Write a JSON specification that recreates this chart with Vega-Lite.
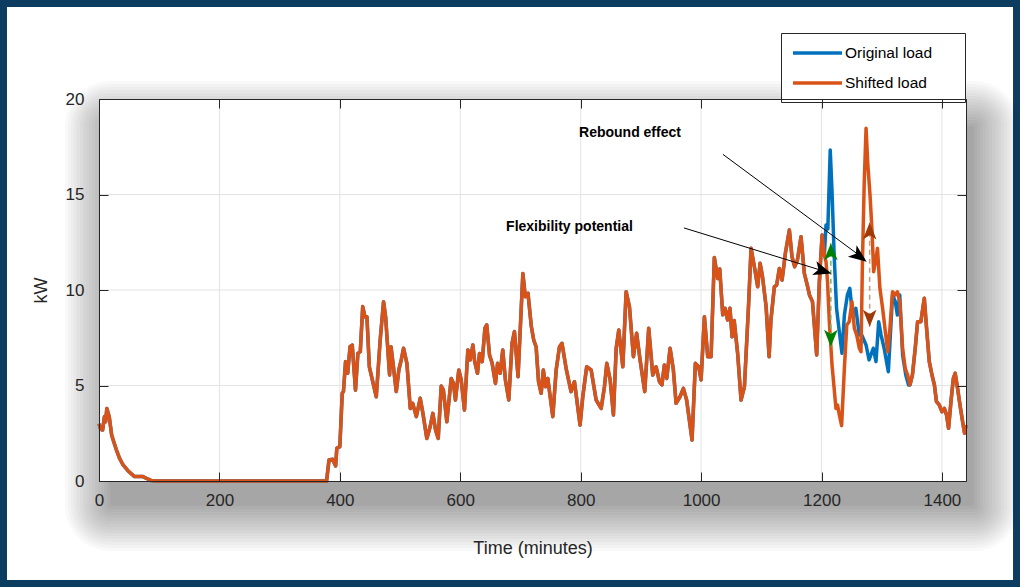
{
  "$schema": "https://vega.github.io/schema/vega-lite/v6.json",
  "width": 867,
  "height": 382,
  "autosize": {"type": "none"},
  "padding": {"left": 99, "top": 99, "right": 54, "bottom": 106},
  "background": "#0d3c61",
  "datasets": {
    "original": [
      {"t":0,"kW":3.0},{"t":3,"kW":2.7},{"t":6,"kW":2.67},{"t":9,"kW":3.37},{"t":11,"kW":3.1},{"t":13,"kW":3.8},{"t":17,"kW":3.37},{"t":21,"kW":2.41},{"t":25,"kW":2.0},{"t":29,"kW":1.62},{"t":34,"kW":1.2},{"t":40,"kW":0.84},{"t":48,"kW":0.54},{"t":59,"kW":0.23},{"t":73,"kW":0.23},{"t":80,"kW":0.12},{"t":87,"kW":0.02},{"t":95,"kW":0},{"t":378,"kW":0},{"t":382,"kW":1.1},{"t":388,"kW":1.14},{"t":393,"kW":0.79},{"t":395,"kW":1.71},{"t":400,"kW":1.8},{"t":404,"kW":4.59},{"t":406,"kW":4.68},{"t":409.5,"kW":6.25},{"t":413,"kW":5.64},{"t":417,"kW":7.03},{"t":420.6,"kW":7.12},{"t":426,"kW":4.76},{"t":430,"kW":6.68},{"t":434,"kW":6.77},{"t":438,"kW":9.13},{"t":441.6,"kW":8.6},{"t":445,"kW":8.6},{"t":449,"kW":5.98},{"t":454,"kW":5.29},{"t":460.5,"kW":4.41},{"t":467,"kW":7.38},{"t":472.6,"kW":9.39},{"t":476,"kW":8.6},{"t":482.6,"kW":5.55},{"t":485,"kW":7.03},{"t":489,"kW":5.98},{"t":493.7,"kW":4.68},{"t":498,"kW":5.81},{"t":502,"kW":6.34},{"t":505.8,"kW":6.95},{"t":511.4,"kW":6.16},{"t":517,"kW":3.8},{"t":521,"kW":4.07},{"t":527,"kW":3.37},{"t":533.5,"kW":4.33},{"t":538,"kW":3.54},{"t":544.5,"kW":2.23},{"t":550,"kW":2.84},{"t":554.5,"kW":3.54},{"t":559,"kW":2.67},{"t":563.4,"kW":2.23},{"t":568.4,"kW":4.97},{"t":572,"kW":4.76},{"t":577.7,"kW":3.1},{"t":585,"kW":5.37},{"t":588.8,"kW":5.11},{"t":592,"kW":4.24},{"t":597.6,"kW":5.81},{"t":601.6,"kW":5.29},{"t":607,"kW":3.72},{"t":612.6,"kW":6.86},{"t":616.5,"kW":6.34},{"t":621,"kW":7.12},{"t":624,"kW":6.25},{"t":628.6,"kW":5.64},{"t":632,"kW":6.68},{"t":636.5,"kW":6.25},{"t":641,"kW":8.0},{"t":644,"kW":8.17},{"t":648.6,"kW":6.6},{"t":653,"kW":6.16},{"t":658.5,"kW":5.11},{"t":662,"kW":6.16},{"t":666.4,"kW":5.64},{"t":670.6,"kW":6.86},{"t":675,"kW":5.29},{"t":680.6,"kW":4.24},{"t":686,"kW":7.21},{"t":690,"kW":7.82},{"t":696,"kW":5.46},{"t":704,"kW":10.87},{"t":708,"kW":9.65},{"t":712.5,"kW":9.83},{"t":718,"kW":8.1},{"t":722,"kW":7.38},{"t":726,"kW":7.03},{"t":730,"kW":5.2},{"t":734.4,"kW":4.59},{"t":738,"kW":5.81},{"t":741.6,"kW":4.94},{"t":745.4,"kW":5.37},{"t":753.7,"kW":3.37},{"t":759.3,"kW":5.81},{"t":764.8,"kW":7.03},{"t":769,"kW":7.21},{"t":775.8,"kW":5.9},{"t":784,"kW":4.68},{"t":789.7,"kW":5.2},{"t":799,"kW":2.93},{"t":803.5,"kW":4.41},{"t":810,"kW":5.98},{"t":817.4,"kW":5.81},{"t":825.7,"kW":4.24},{"t":834,"kW":3.8},{"t":839.5,"kW":4.94},{"t":843.4,"kW":6.16},{"t":849,"kW":5.29},{"t":854.4,"kW":3.46},{"t":859,"kW":6.95},{"t":863.3,"kW":7.91},{"t":870,"kW":5.98},{"t":875.5,"kW":9.91},{"t":881,"kW":9.13},{"t":887.6,"kW":6.51},{"t":893,"kW":7.73},{"t":898.7,"kW":6.34},{"t":906.4,"kW":4.68},{"t":913,"kW":8.0},{"t":919.7,"kW":5.55},{"t":925.3,"kW":5.98},{"t":930.8,"kW":5.2},{"t":935,"kW":5.03},{"t":939,"kW":6.07},{"t":943,"kW":5.37},{"t":948.5,"kW":6.95},{"t":954,"kW":5.81},{"t":958.5,"kW":4.07},{"t":965,"kW":4.41},{"t":970.6,"kW":4.85},{"t":976,"kW":4.24},{"t":985,"kW":2.15},{"t":990.5,"kW":6.16},{"t":996,"kW":5.98},{"t":1000,"kW":5.29},{"t":1005.5,"kW":8.6},{"t":1011,"kW":6.51},{"t":1016.6,"kW":6.51},{"t":1022,"kW":11.7},{"t":1027.6,"kW":10.6},{"t":1031,"kW":11.1},{"t":1036,"kW":8.7},{"t":1040,"kW":9.04},{"t":1044,"kW":8.43},{"t":1048,"kW":9.04},{"t":1051.5,"kW":7.55},{"t":1055,"kW":8.4},{"t":1060.7,"kW":6.69},{"t":1066.4,"kW":4.24},{"t":1072,"kW":4.94},{"t":1079,"kW":9.3},{"t":1083,"kW":12.18},{"t":1088.5,"kW":11.22},{"t":1094,"kW":10.17},{"t":1098,"kW":11.4},{"t":1102,"kW":10.7},{"t":1108,"kW":9.13},{"t":1113,"kW":6.51},{"t":1116,"kW":8.43},{"t":1121.7,"kW":10.17},{"t":1125.5,"kW":10.26},{"t":1130,"kW":11.13},{"t":1134.5,"kW":10.52},{"t":1140,"kW":11.92},{"t":1146.6,"kW":13.14},{"t":1151,"kW":11.74},{"t":1155.5,"kW":11.22},{"t":1160,"kW":11.57},{"t":1166,"kW":12.79},{"t":1171.5,"kW":10.87},{"t":1177,"kW":10.17},{"t":1180,"kW":9.74},{"t":1185,"kW":9.39},{"t":1192,"kW":6.6},{"t":1196.4,"kW":10.43},{"t":1201,"kW":12.88},{"t":1204.7,"kW":11.83},
      {"t":1207.5,"kW":13.4},{"t":1210.5,"kW":13.2},{"t":1214.5,"kW":17.33},{"t":1217.5,"kW":15.15},{"t":1221,"kW":11.83},{"t":1225,"kW":9.04},{"t":1229.6,"kW":7.82},{"t":1234,"kW":6.69},{"t":1238,"kW":8.69},{"t":1243,"kW":9.74},{"t":1247,"kW":10.09},{"t":1251.5,"kW":8.69},{"t":1257,"kW":9.04},{"t":1262.8,"kW":7.64},{"t":1267,"kW":7.64},{"t":1274,"kW":7.12},{"t":1279,"kW":6.34},{"t":1286,"kW":6.95},{"t":1290.5,"kW":6.25},{"t":1295,"kW":8.34},{"t":1299,"kW":7.64},{"t":1304,"kW":6.95},{"t":1311,"kW":5.72},{"t":1315,"kW":8.0},{"t":1318,"kW":9.74},{"t":1322.6,"kW":9.39},{"t":1326,"kW":8.69},{"t":1330,"kW":9.74},{"t":1334.7,"kW":6.6},{"t":1340,"kW":5.55},{"t":1344.6,"kW":5.03},
      {"t":1347,"kW":5.03},{"t":1351,"kW":5.55},{"t":1355.7,"kW":6.95},{"t":1359.6,"kW":8.34},{"t":1365,"kW":8.34},{"t":1370.7,"kW":9.57},{"t":1374.5,"kW":8.0},{"t":1379,"kW":6.25},{"t":1383.5,"kW":5.55},{"t":1387.5,"kW":5.03},{"t":1391,"kW":4.15},{"t":1395.6,"kW":3.98},{"t":1400,"kW":3.63},{"t":1404,"kW":3.8},{"t":1407.7,"kW":3.46},{"t":1411,"kW":2.76},{"t":1415,"kW":4.15},{"t":1419,"kW":5.37},{"t":1422,"kW":5.64},{"t":1426,"kW":4.85},{"t":1430,"kW":3.98},{"t":1434.4,"kW":3.1},{"t":1437.6,"kW":2.5},{"t":1440,"kW":2.93}
    ],
    "shifted": [
      {"t":0,"kW":3.0},{"t":3,"kW":2.7},{"t":6,"kW":2.67},{"t":9,"kW":3.37},{"t":11,"kW":3.1},{"t":13,"kW":3.8},{"t":17,"kW":3.37},{"t":21,"kW":2.41},{"t":25,"kW":2.0},{"t":29,"kW":1.62},{"t":34,"kW":1.2},{"t":40,"kW":0.84},{"t":48,"kW":0.54},{"t":59,"kW":0.23},{"t":73,"kW":0.23},{"t":80,"kW":0.12},{"t":87,"kW":0.02},{"t":95,"kW":0},{"t":378,"kW":0},{"t":382,"kW":1.1},{"t":388,"kW":1.14},{"t":393,"kW":0.79},{"t":395,"kW":1.71},{"t":400,"kW":1.8},{"t":404,"kW":4.59},{"t":406,"kW":4.68},{"t":409.5,"kW":6.25},{"t":413,"kW":5.64},{"t":417,"kW":7.03},{"t":420.6,"kW":7.12},{"t":426,"kW":4.76},{"t":430,"kW":6.68},{"t":434,"kW":6.77},{"t":438,"kW":9.13},{"t":441.6,"kW":8.6},{"t":445,"kW":8.6},{"t":449,"kW":5.98},{"t":454,"kW":5.29},{"t":460.5,"kW":4.41},{"t":467,"kW":7.38},{"t":472.6,"kW":9.39},{"t":476,"kW":8.6},{"t":482.6,"kW":5.55},{"t":485,"kW":7.03},{"t":489,"kW":5.98},{"t":493.7,"kW":4.68},{"t":498,"kW":5.81},{"t":502,"kW":6.34},{"t":505.8,"kW":6.95},{"t":511.4,"kW":6.16},{"t":517,"kW":3.8},{"t":521,"kW":4.07},{"t":527,"kW":3.37},{"t":533.5,"kW":4.33},{"t":538,"kW":3.54},{"t":544.5,"kW":2.23},{"t":550,"kW":2.84},{"t":554.5,"kW":3.54},{"t":559,"kW":2.67},{"t":563.4,"kW":2.23},{"t":568.4,"kW":4.97},{"t":572,"kW":4.76},{"t":577.7,"kW":3.1},{"t":585,"kW":5.37},{"t":588.8,"kW":5.11},{"t":592,"kW":4.24},{"t":597.6,"kW":5.81},{"t":601.6,"kW":5.29},{"t":607,"kW":3.72},{"t":612.6,"kW":6.86},{"t":616.5,"kW":6.34},{"t":621,"kW":7.12},{"t":624,"kW":6.25},{"t":628.6,"kW":5.64},{"t":632,"kW":6.68},{"t":636.5,"kW":6.25},{"t":641,"kW":8.0},{"t":644,"kW":8.17},{"t":648.6,"kW":6.6},{"t":653,"kW":6.16},{"t":658.5,"kW":5.11},{"t":662,"kW":6.16},{"t":666.4,"kW":5.64},{"t":670.6,"kW":6.86},{"t":675,"kW":5.29},{"t":680.6,"kW":4.24},{"t":686,"kW":7.21},{"t":690,"kW":7.82},{"t":696,"kW":5.46},{"t":704,"kW":10.87},{"t":708,"kW":9.65},{"t":712.5,"kW":9.83},{"t":718,"kW":8.1},{"t":722,"kW":7.38},{"t":726,"kW":7.03},{"t":730,"kW":5.2},{"t":734.4,"kW":4.59},{"t":738,"kW":5.81},{"t":741.6,"kW":4.94},{"t":745.4,"kW":5.37},{"t":753.7,"kW":3.37},{"t":759.3,"kW":5.81},{"t":764.8,"kW":7.03},{"t":769,"kW":7.21},{"t":775.8,"kW":5.9},{"t":784,"kW":4.68},{"t":789.7,"kW":5.2},{"t":799,"kW":2.93},{"t":803.5,"kW":4.41},{"t":810,"kW":5.98},{"t":817.4,"kW":5.81},{"t":825.7,"kW":4.24},{"t":834,"kW":3.8},{"t":839.5,"kW":4.94},{"t":843.4,"kW":6.16},{"t":849,"kW":5.29},{"t":854.4,"kW":3.46},{"t":859,"kW":6.95},{"t":863.3,"kW":7.91},{"t":870,"kW":5.98},{"t":875.5,"kW":9.91},{"t":881,"kW":9.13},{"t":887.6,"kW":6.51},{"t":893,"kW":7.73},{"t":898.7,"kW":6.34},{"t":906.4,"kW":4.68},{"t":913,"kW":8.0},{"t":919.7,"kW":5.55},{"t":925.3,"kW":5.98},{"t":930.8,"kW":5.2},{"t":935,"kW":5.03},{"t":939,"kW":6.07},{"t":943,"kW":5.37},{"t":948.5,"kW":6.95},{"t":954,"kW":5.81},{"t":958.5,"kW":4.07},{"t":965,"kW":4.41},{"t":970.6,"kW":4.85},{"t":976,"kW":4.24},{"t":985,"kW":2.15},{"t":990.5,"kW":6.16},{"t":996,"kW":5.98},{"t":1000,"kW":5.29},{"t":1005.5,"kW":8.6},{"t":1011,"kW":6.51},{"t":1016.6,"kW":6.51},{"t":1022,"kW":11.7},{"t":1027.6,"kW":10.6},{"t":1031,"kW":11.1},{"t":1036,"kW":8.7},{"t":1040,"kW":9.04},{"t":1044,"kW":8.43},{"t":1048,"kW":9.04},{"t":1051.5,"kW":7.55},{"t":1055,"kW":8.4},{"t":1060.7,"kW":6.69},{"t":1066.4,"kW":4.24},{"t":1072,"kW":4.94},{"t":1079,"kW":9.3},{"t":1083,"kW":12.18},{"t":1088.5,"kW":11.22},{"t":1094,"kW":10.17},{"t":1098,"kW":11.4},{"t":1102,"kW":10.7},{"t":1108,"kW":9.13},{"t":1113,"kW":6.51},{"t":1116,"kW":8.43},{"t":1121.7,"kW":10.17},{"t":1125.5,"kW":10.26},{"t":1130,"kW":11.13},{"t":1134.5,"kW":10.52},{"t":1140,"kW":11.92},{"t":1146.6,"kW":13.14},{"t":1151,"kW":11.74},{"t":1155.5,"kW":11.22},{"t":1160,"kW":11.57},{"t":1166,"kW":12.79},{"t":1171.5,"kW":10.87},{"t":1177,"kW":10.17},{"t":1180,"kW":9.74},{"t":1185,"kW":9.39},{"t":1192,"kW":6.6},{"t":1196.4,"kW":10.43},{"t":1201,"kW":12.88},{"t":1204.7,"kW":11.83},
      {"t":1207.5,"kW":11.48},{"t":1210,"kW":10.43},{"t":1213,"kW":8.34},{"t":1217.5,"kW":6.07},{"t":1221,"kW":4.85},{"t":1224,"kW":3.8},{"t":1226.7,"kW":3.98},{"t":1229.6,"kW":3.46},{"t":1233.4,"kW":2.9},{"t":1238,"kW":5.9},{"t":1242,"kW":8.17},{"t":1246,"kW":8.34},{"t":1250.6,"kW":9.39},{"t":1254.5,"kW":8.0},{"t":1258.5,"kW":7.64},{"t":1262.8,"kW":6.95},{"t":1265.6,"kW":6.77},{"t":1268,"kW":11.48},{"t":1271,"kW":15.67},{"t":1274,"kW":18.47},{"t":1277,"kW":16.54},{"t":1280.6,"kW":14.97},{"t":1284,"kW":13.05},{"t":1286.6,"kW":10.96},{"t":1290.5,"kW":11.66},{"t":1293,"kW":12.18},{"t":1297,"kW":10.09},{"t":1301.5,"kW":9.04},{"t":1306,"kW":7.82},{"t":1310,"kW":6.77},{"t":1313.7,"kW":8.0},{"t":1318,"kW":9.91},{"t":1322.5,"kW":9.74},{"t":1326,"kW":9.91},{"t":1330,"kW":9.39},{"t":1334.7,"kW":6.95},{"t":1339,"kW":5.9},{"t":1343,"kW":5.55},
      {"t":1347,"kW":5.03},{"t":1351,"kW":5.55},{"t":1355.7,"kW":6.95},{"t":1359.6,"kW":8.34},{"t":1365,"kW":8.34},{"t":1370.7,"kW":9.57},{"t":1374.5,"kW":8.0},{"t":1379,"kW":6.25},{"t":1383.5,"kW":5.55},{"t":1387.5,"kW":5.03},{"t":1391,"kW":4.15},{"t":1395.6,"kW":3.98},{"t":1400,"kW":3.63},{"t":1404,"kW":3.8},{"t":1407.7,"kW":3.46},{"t":1411,"kW":2.76},{"t":1415,"kW":4.15},{"t":1419,"kW":5.37},{"t":1422,"kW":5.64},{"t":1426,"kW":4.85},{"t":1430,"kW":3.98},{"t":1434.4,"kW":3.1},{"t":1437.6,"kW":2.5},{"t":1440,"kW":2.93}
    ]
  },
  "data": {"values": [{}]},
  "layer": [
    {
      "description": "white card inside the dark frame",
      "mark": {"type": "rect", "fill": "#ffffff"},
      "encoding": {
        "x": {"datum": -152.8, "type": "quantitative", "scale": {"domain": [0, 1440], "nice": false}, "axis": null},
        "x2": {"datum": 1518.1},
        "y": {"datum": 24.82, "type": "quantitative", "scale": {"domain": [0, 20], "nice": false}, "axis": null},
        "y2": {"datum": -5.18}
      }
    },
    {"description": "soft drop shadow behind the axes box, outer to inner",
     "mark": {"type": "rect", "fill": "#000000", "opacity": 0.022, "cornerRadius": 45}, "encoding": {"x": {"datum": -56.47, "type": "quantitative", "scale": {"domain": [0, 1440], "nice": false}, "axis": null}, "x2": {"datum": 1528.0}, "y": {"datum": 20.94, "type": "quantitative", "scale": {"domain": [0, 20], "nice": false}, "axis": null}, "y2": {"datum": -3.665}}},
    {"mark": {"type": "rect", "fill": "#000000", "opacity": 0.022, "cornerRadius": 42}, "encoding": {"x": {"datum": -51.49, "type": "quantitative", "scale": {"domain": [0, 1440], "nice": false}, "axis": null}, "x2": {"datum": 1523.0}, "y": {"datum": 20.79, "type": "quantitative", "scale": {"domain": [0, 20], "nice": false}, "axis": null}, "y2": {"datum": -3.508}}},
    {"mark": {"type": "rect", "fill": "#000000", "opacity": 0.022, "cornerRadius": 39}, "encoding": {"x": {"datum": -46.51, "type": "quantitative", "scale": {"domain": [0, 1440], "nice": false}, "axis": null}, "x2": {"datum": 1518.1}, "y": {"datum": 20.63, "type": "quantitative", "scale": {"domain": [0, 20], "nice": false}, "axis": null}, "y2": {"datum": -3.351}}},
    {"mark": {"type": "rect", "fill": "#000000", "opacity": 0.022, "cornerRadius": 36}, "encoding": {"x": {"datum": -41.52, "type": "quantitative", "scale": {"domain": [0, 1440], "nice": false}, "axis": null}, "x2": {"datum": 1513.1}, "y": {"datum": 20.47, "type": "quantitative", "scale": {"domain": [0, 20], "nice": false}, "axis": null}, "y2": {"datum": -3.194}}},
    {"mark": {"type": "rect", "fill": "#000000", "opacity": 0.022, "cornerRadius": 33}, "encoding": {"x": {"datum": -36.54, "type": "quantitative", "scale": {"domain": [0, 1440], "nice": false}, "axis": null}, "x2": {"datum": 1508.1}, "y": {"datum": 20.31, "type": "quantitative", "scale": {"domain": [0, 20], "nice": false}, "axis": null}, "y2": {"datum": -3.037}}},
    {"mark": {"type": "rect", "fill": "#000000", "opacity": 0.022, "cornerRadius": 30}, "encoding": {"x": {"datum": -31.56, "type": "quantitative", "scale": {"domain": [0, 1440], "nice": false}, "axis": null}, "x2": {"datum": 1503.1}, "y": {"datum": 20.16, "type": "quantitative", "scale": {"domain": [0, 20], "nice": false}, "axis": null}, "y2": {"datum": -2.880}}},
    {"mark": {"type": "rect", "fill": "#000000", "opacity": 0.022, "cornerRadius": 27}, "encoding": {"x": {"datum": -26.57, "type": "quantitative", "scale": {"domain": [0, 1440], "nice": false}, "axis": null}, "x2": {"datum": 1498.1}, "y": {"datum": 20.0, "type": "quantitative", "scale": {"domain": [0, 20], "nice": false}, "axis": null}, "y2": {"datum": -2.723}}},
    {"mark": {"type": "rect", "fill": "#000000", "opacity": 0.022, "cornerRadius": 24}, "encoding": {"x": {"datum": -21.59, "type": "quantitative", "scale": {"domain": [0, 1440], "nice": false}, "axis": null}, "x2": {"datum": 1493.2}, "y": {"datum": 19.84, "type": "quantitative", "scale": {"domain": [0, 20], "nice": false}, "axis": null}, "y2": {"datum": -2.565}}},
    {"mark": {"type": "rect", "fill": "#000000", "opacity": 0.022, "cornerRadius": 21}, "encoding": {"x": {"datum": -16.61, "type": "quantitative", "scale": {"domain": [0, 1440], "nice": false}, "axis": null}, "x2": {"datum": 1488.2}, "y": {"datum": 19.69, "type": "quantitative", "scale": {"domain": [0, 20], "nice": false}, "axis": null}, "y2": {"datum": -2.408}}},
    {"mark": {"type": "rect", "fill": "#000000", "opacity": 0.022, "cornerRadius": 18}, "encoding": {"x": {"datum": -11.63, "type": "quantitative", "scale": {"domain": [0, 1440], "nice": false}, "axis": null}, "x2": {"datum": 1483.2}, "y": {"datum": 19.53, "type": "quantitative", "scale": {"domain": [0, 20], "nice": false}, "axis": null}, "y2": {"datum": -2.251}}},
    {"mark": {"type": "rect", "fill": "#000000", "opacity": 0.022, "cornerRadius": 15}, "encoding": {"x": {"datum": -6.64, "type": "quantitative", "scale": {"domain": [0, 1440], "nice": false}, "axis": null}, "x2": {"datum": 1478.2}, "y": {"datum": 19.37, "type": "quantitative", "scale": {"domain": [0, 20], "nice": false}, "axis": null}, "y2": {"datum": -2.094}}},
    {"mark": {"type": "rect", "fill": "#000000", "opacity": 0.022, "cornerRadius": 12}, "encoding": {"x": {"datum": -1.66, "type": "quantitative", "scale": {"domain": [0, 1440], "nice": false}, "axis": null}, "x2": {"datum": 1473.2}, "y": {"datum": 19.21, "type": "quantitative", "scale": {"domain": [0, 20], "nice": false}, "axis": null}, "y2": {"datum": -1.937}}},
    {"mark": {"type": "rect", "fill": "#000000", "opacity": 0.022, "cornerRadius": 9}, "encoding": {"x": {"datum": 3.32, "type": "quantitative", "scale": {"domain": [0, 1440], "nice": false}, "axis": null}, "x2": {"datum": 1468.2}, "y": {"datum": 19.06, "type": "quantitative", "scale": {"domain": [0, 20], "nice": false}, "axis": null}, "y2": {"datum": -1.780}}},
    {"mark": {"type": "rect", "fill": "#000000", "opacity": 0.022, "cornerRadius": 6}, "encoding": {"x": {"datum": 8.30, "type": "quantitative", "scale": {"domain": [0, 1440], "nice": false}, "axis": null}, "x2": {"datum": 1463.3}, "y": {"datum": 18.90, "type": "quantitative", "scale": {"domain": [0, 20], "nice": false}, "axis": null}, "y2": {"datum": -1.623}}},
    {"mark": {"type": "rect", "fill": "#000000", "opacity": 0.022, "cornerRadius": 3}, "encoding": {"x": {"datum": 13.29, "type": "quantitative", "scale": {"domain": [0, 1440], "nice": false}, "axis": null}, "x2": {"datum": 1458.3}, "y": {"datum": 18.74, "type": "quantitative", "scale": {"domain": [0, 20], "nice": false}, "axis": null}, "y2": {"datum": -1.466}}},
    {"mark": {"type": "rect", "fill": "#000000", "opacity": 0.04, "cornerRadius": 2}, "encoding": {"x": {"datum": 18.27, "type": "quantitative", "scale": {"domain": [0, 1440], "nice": false}, "axis": null}, "x2": {"datum": 1453.3}, "y": {"datum": 18.59, "type": "quantitative", "scale": {"domain": [0, 20], "nice": false}, "axis": null}, "y2": {"datum": -1.309}}},
    {
      "description": "plot area",
      "mark": {"type": "rect", "fill": "#ffffff"},
      "encoding": {
        "x": {"datum": 0, "type": "quantitative", "scale": {"domain": [0, 1440], "nice": false}, "axis": null},
        "x2": {"datum": 1440},
        "y": {"datum": 0, "type": "quantitative", "scale": {"domain": [0, 20], "nice": false}, "axis": null},
        "y2": {"datum": 20}
      }
    },
    {
      "description": "vertical grid lines",
      "data": {"values": [{"g": 200}, {"g": 400}, {"g": 600}, {"g": 800}, {"g": 1000}, {"g": 1200}, {"g": 1400}]},
      "mark": {"type": "rule", "stroke": "#e3e3e3", "strokeWidth": 1},
      "encoding": {"x": {"field": "g", "type": "quantitative", "scale": {"domain": [0, 1440], "nice": false}, "axis": null}}
    },
    {
      "description": "horizontal grid lines",
      "data": {"values": [{"g": 5}, {"g": 10}, {"g": 15}]},
      "mark": {"type": "rule", "stroke": "#e3e3e3", "strokeWidth": 1},
      "encoding": {"y": {"field": "g", "type": "quantitative", "scale": {"domain": [0, 20], "nice": false}, "axis": null}}
    },
    {
      "data": {"name": "original"},
      "mark": {"type": "line", "strokeWidth": 3.5, "strokeJoin": "round"},
      "encoding": {
        "x": {"field": "t", "type": "quantitative", "scale": {"domain": [0, 1440], "nice": false},
          "axis": {"orient": "bottom", "title": "Time (minutes)", "format": "d", "values": [0, 200, 400, 600, 800, 1000, 1200, 1400], "labelPadding": 20, "titlePadding": 31, "zindex": 1}},
        "y": {"field": "kW", "type": "quantitative", "scale": {"domain": [0, 20], "nice": false},
          "axis": {"orient": "left", "title": "kW", "values": [0, 5, 10, 15, 20], "labelPadding": 24, "titlePadding": 15, "zindex": 1}},
        "color": {"datum": "Original load", "type": "nominal",
          "scale": {"domain": ["Original load", "Shifted load"], "range": ["#0072BD", "#D95319"]},
          "legend": {"title": "\u00a0"}}
      }
    },
    {
      "data": {"name": "shifted"},
      "mark": {"type": "line", "strokeWidth": 3.5, "strokeJoin": "round"},
      "encoding": {
        "x": {"field": "t", "type": "quantitative", "scale": {"domain": [0, 1440], "nice": false},
          "axis": {"orient": "top", "title": null, "labels": false, "values": [0, 200, 400, 600, 800, 1000, 1200, 1400], "zindex": 1}},
        "y": {"field": "kW", "type": "quantitative", "scale": {"domain": [0, 20], "nice": false},
          "axis": {"orient": "right", "title": null, "labels": false, "values": [0, 5, 10, 15, 20], "zindex": 1}},
        "color": {"datum": "Shifted load", "type": "nominal",
          "scale": {"domain": ["Original load", "Shifted load"], "range": ["#0072BD", "#D95319"]},
          "legend": {"title": "\u00a0"}}
      }
    },
    {
      "description": "flexibility span, dashed",
      "mark": {"type": "rule", "stroke": "#6cb86c", "strokeWidth": 1.5, "strokeDash": [5, 4]},
      "encoding": {
        "x": {"datum": 1215.5, "type": "quantitative", "scale": {"domain": [0, 1440], "nice": false}, "axis": null},
        "y": {"datum": 7.03, "type": "quantitative", "scale": {"domain": [0, 20], "nice": false}, "axis": null},
        "y2": {"datum": 12.45}
      }
    },
    {
      "description": "rebound span, dashed",
      "mark": {"type": "rule", "stroke": "#c99a80", "strokeWidth": 1.5, "strokeDash": [5, 4]},
      "encoding": {
        "x": {"datum": 1280, "type": "quantitative", "scale": {"domain": [0, 1440], "nice": false}, "axis": null},
        "y": {"datum": 8.08, "type": "quantitative", "scale": {"domain": [0, 20], "nice": false}, "axis": null},
        "y2": {"datum": 13.54}
      }
    },
    {"mark": {"type": "point", "shape": "M0,0L-2,-0.8L-1.5,0L-2,0.8Z", "size": 289, "filled": true, "fill": "#008000", "strokeWidth": 0, "opacity": 1, "angle": 270},
     "encoding": {"x": {"datum": 1215.5, "type": "quantitative", "scale": {"domain": [0, 1440], "nice": false}, "axis": null}, "y": {"datum": 12.45, "type": "quantitative", "scale": {"domain": [0, 20], "nice": false}, "axis": null}}},
    {"mark": {"type": "point", "shape": "M0,0L-2,-0.8L-1.5,0L-2,0.8Z", "size": 289, "filled": true, "fill": "#008000", "strokeWidth": 0, "opacity": 1, "angle": 90},
     "encoding": {"x": {"datum": 1215.5, "type": "quantitative", "scale": {"domain": [0, 1440], "nice": false}, "axis": null}, "y": {"datum": 7.03, "type": "quantitative", "scale": {"domain": [0, 20], "nice": false}, "axis": null}}},
    {"mark": {"type": "point", "shape": "M0,0L-2,-0.8L-1.5,0L-2,0.8Z", "size": 289, "filled": true, "fill": "#9e3a07", "strokeWidth": 0, "opacity": 1, "angle": 270},
     "encoding": {"x": {"datum": 1280, "type": "quantitative", "scale": {"domain": [0, 1440], "nice": false}, "axis": null}, "y": {"datum": 13.54, "type": "quantitative", "scale": {"domain": [0, 20], "nice": false}, "axis": null}}},
    {"mark": {"type": "point", "shape": "M0,0L-2,-0.8L-1.5,0L-2,0.8Z", "size": 289, "filled": true, "fill": "#9e3a07", "strokeWidth": 0, "opacity": 1, "angle": 90},
     "encoding": {"x": {"datum": 1280, "type": "quantitative", "scale": {"domain": [0, 1440], "nice": false}, "axis": null}, "y": {"datum": 8.08, "type": "quantitative", "scale": {"domain": [0, 20], "nice": false}, "axis": null}}},
    {
      "description": "pointer from the rebound label",
      "mark": {"type": "rule", "stroke": "#000000", "strokeWidth": 1},
      "encoding": {
        "x": {"datum": 1036.3, "type": "quantitative", "scale": {"domain": [0, 1440], "nice": false}, "axis": null},
        "y": {"datum": 17.1, "type": "quantitative", "scale": {"domain": [0, 20], "nice": false}, "axis": null},
        "x2": {"datum": 1272},
        "y2": {"datum": 11.6}
      }
    },
    {
      "description": "pointer from the flexibility label",
      "mark": {"type": "rule", "stroke": "#000000", "strokeWidth": 1},
      "encoding": {
        "x": {"datum": 971.6, "type": "quantitative", "scale": {"domain": [0, 1440], "nice": false}, "axis": null},
        "y": {"datum": 13.25, "type": "quantitative", "scale": {"domain": [0, 20], "nice": false}, "axis": null},
        "x2": {"datum": 1213},
        "y2": {"datum": 10.9}
      }
    },
    {"mark": {"type": "point", "shape": "M0,0L-2,-0.8L-1.5,0L-2,0.8Z", "size": 324, "filled": true, "fill": "#000000", "strokeWidth": 0, "opacity": 1, "angle": 36.8},
     "encoding": {"x": {"datum": 1275, "type": "quantitative", "scale": {"domain": [0, 1440], "nice": false}, "axis": null}, "y": {"datum": 11.48, "type": "quantitative", "scale": {"domain": [0, 20], "nice": false}, "axis": null}}},
    {"mark": {"type": "point", "shape": "M0,0L-2,-0.8L-1.5,0L-2,0.8Z", "size": 324, "filled": true, "fill": "#000000", "strokeWidth": 0, "opacity": 1, "angle": 17.05},
     "encoding": {"x": {"datum": 1216.6, "type": "quantitative", "scale": {"domain": [0, 1440], "nice": false}, "axis": null}, "y": {"datum": 10.87, "type": "quantitative", "scale": {"domain": [0, 20], "nice": false}, "axis": null}}},
    {"mark": {"type": "text", "text": "Rebound effect", "font": "Liberation Sans", "fontSize": 14, "fontWeight": "bold", "fill": "#000000", "align": "center", "baseline": "middle"},
     "encoding": {"x": {"datum": 881.9, "type": "quantitative", "scale": {"domain": [0, 1440], "nice": false}, "axis": null}, "y": {"datum": 18.22, "type": "quantitative", "scale": {"domain": [0, 20], "nice": false}, "axis": null}}},
    {"mark": {"type": "text", "text": "Flexibility potential", "font": "Liberation Sans", "fontSize": 14, "fontWeight": "bold", "fill": "#000000", "align": "center", "baseline": "middle"},
     "encoding": {"x": {"datum": 781.4, "type": "quantitative", "scale": {"domain": [0, 1440], "nice": false}, "axis": null}, "y": {"datum": 13.3, "type": "quantitative", "scale": {"domain": [0, 20], "nice": false}, "axis": null}}}
  ],
  "resolve": {"axis": {"x": "independent", "y": "independent"}},
  "config": {
    "font": "Liberation Sans",
    "view": {"stroke": null},
    "axis": {
      "grid": false,
      "domainColor": "#262626",
      "domainWidth": 1,
      "tickColor": "#262626",
      "tickWidth": 1,
      "tickSize": -9,
      "labelColor": "#262626",
      "labelFont": "Liberation Sans",
      "labelFontSize": 17,
      "labelFlush": false,
      "labelOverlap": false,
      "titleColor": "#262626",
      "titleFont": "Liberation Sans",
      "titleFontSize": 18,
      "titleFontWeight": "normal"
    },
    "legend": {
      "orient": "none",
      "legendX": 682,
      "legendY": -66,
      "titleOrient": "right",
      "titleFontSize": 1,
      "titlePadding": 23,
      "padding": 10,
      "rowPadding": 11,
      "symbolType": "M-1,0H5.125",
      "symbolSize": 256,
      "symbolStrokeWidth": 3.5,
      "labelOffset": 34,
      "labelFont": "Liberation Sans",
      "labelFontSize": 15.5,
      "labelColor": "#000000",
      "fillColor": "#ffffff",
      "strokeColor": "#262626",
      "strokeWidth": 1
    }
  }
}
